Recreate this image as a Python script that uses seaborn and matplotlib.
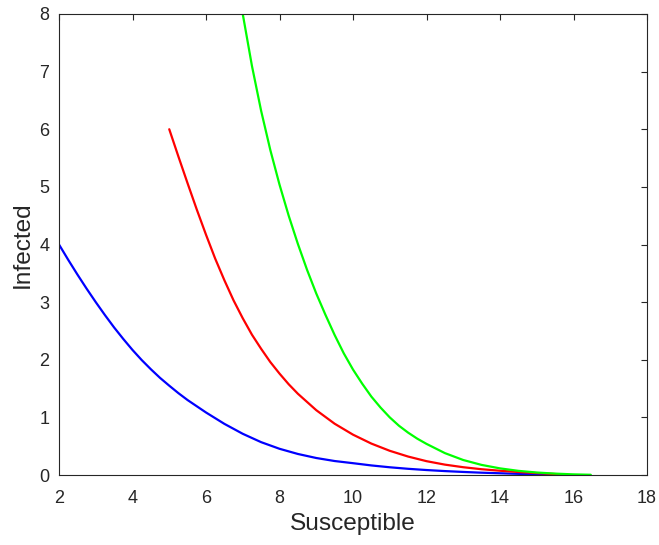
import matplotlib
matplotlib.use("Agg")
import matplotlib.pyplot as plt
import seaborn as sns
import pandas as pd

# Phase-plane trajectories: infected vs susceptible
blue_s = [2.0, 2.25, 2.5, 2.75, 3.0, 3.25, 3.5, 3.75, 4.0, 4.25, 4.5, 4.75, 5.0, 5.25,
          5.5, 6.0, 6.5, 7.0, 7.5, 8.0, 8.5, 9.0, 9.5, 10.0, 10.5, 11.0, 11.5, 12.0,
          12.5, 13.0, 13.5, 14.0, 14.5, 15.0, 15.6]
blue_i = [4.00, 3.735, 3.48, 3.235, 3.00, 2.775, 2.56, 2.36, 2.17, 1.995, 1.835, 1.685,
          1.55, 1.42, 1.30, 1.085, 0.8875, 0.715, 0.57, 0.455, 0.365, 0.295, 0.2425,
          0.205, 0.166, 0.134, 0.1075, 0.086, 0.068, 0.053, 0.04, 0.03, 0.02, 0.011, 0.003]

red_s = [5.0, 5.25, 5.5, 5.75, 6.0, 6.25, 6.5, 6.75, 7.0, 7.25, 7.5, 7.75, 8.0, 8.25,
         8.5, 9.0, 9.5, 10.0, 10.5, 11.0, 11.5, 12.0, 12.5, 13.0, 13.5, 14.0, 14.5,
         15.0, 15.4, 15.8]
red_i = [6.00, 5.525, 5.06, 4.605, 4.17, 3.755, 3.38, 3.03, 2.72, 2.435, 2.19, 1.96,
         1.76, 1.575, 1.41, 1.125, 0.89, 0.70, 0.545, 0.42, 0.32, 0.24, 0.18, 0.135,
         0.10, 0.074, 0.052, 0.033, 0.02, 0.008]

green_s = [7.0, 7.25, 7.5, 7.75, 8.0, 8.25, 8.5, 8.75, 9.0, 9.25, 9.5, 9.75, 10.0,
           10.25, 10.5, 10.75, 11.0, 11.25, 11.5, 11.75, 12.0, 12.5, 13.0, 13.5,
           14.0, 14.5, 15.0, 15.5, 16.0, 16.47]
green_i = [8.00, 7.10, 6.32, 5.64, 5.04, 4.50, 4.01, 3.56, 3.15, 2.78, 2.43, 2.11, 1.83,
           1.585, 1.36, 1.17, 1.00, 0.855, 0.735, 0.63, 0.54, 0.38, 0.26, 0.175,
           0.115, 0.072, 0.043, 0.024, 0.011, 0.004]

x_ticks = [2, 4, 6, 8, 10, 12, 14, 16, 18]
y_ticks = [0, 1, 2, 3, 4, 5, 6, 7, 8]

frames = []
for name, s, i in [("blue", blue_s, blue_i), ("red", red_s, red_i), ("green", green_s, green_i)]:
    frames.append(pd.DataFrame({"Susceptible": s, "Infected": i, "run": name}))
df = pd.concat(frames, ignore_index=True)

sns.set_style("white")
plt.rcParams["font.family"] = ["Liberation Sans", "DejaVu Sans"]

ink = "#262626"
fig = plt.figure(figsize=(6.59, 5.45), dpi=100)
ax = fig.add_axes([59 / 659, 70 / 545, 588 / 659, 461 / 545])

sns.lineplot(data=df, x="Susceptible", y="Infected", hue="run", sort=False,
             estimator=None, palette={"blue": "#0000ff", "red": "#ff0000", "green": "#00ff00"},
             linewidth=1.6, legend=False, ax=ax)

ax.set_xlim(2, 18)
ax.set_ylim(0, 8)
ax.set_xticks(x_ticks)
ax.set_yticks(y_ticks)
ax.tick_params(direction="in", length=4.5, width=0.8, colors=ink, labelsize=13,
               top=True, right=True, pad=7)
ax.tick_params(axis="x", pad=11)
for sp in ax.spines.values():
    sp.set_visible(True)
    sp.set_color(ink)
    sp.set_linewidth(0.8)

ax.set_xlabel("Susceptible", fontsize=17.6, color=ink)
ax.set_ylabel("Infected", fontsize=17.6, color=ink)
ax.xaxis.set_label_coords(0.5, -0.082)
ax.yaxis.set_label_coords(-0.043, 0.5)

fig.savefig("out.png", dpi=100)
